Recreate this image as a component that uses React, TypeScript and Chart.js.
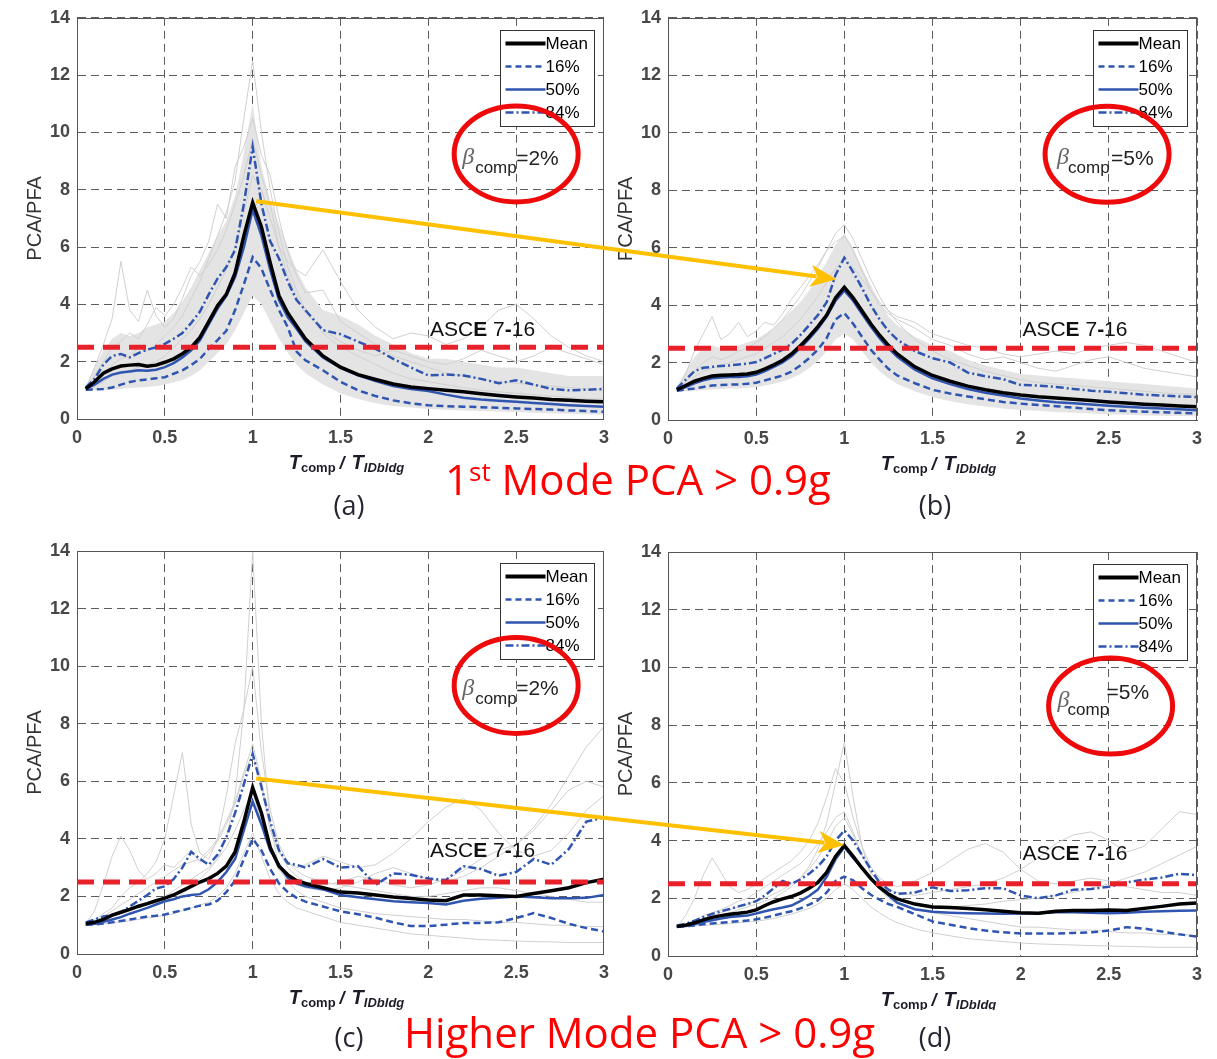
import React, { useEffect, useRef } from "react";
import { Chart, registerables } from "chart.js";

Chart.register(...registerables);

// ---------------- data ----------------
const X = [0.05, 0.1, 0.15, 0.2, 0.25, 0.3, 0.35, 0.4, 0.45, 0.5, 0.55, 0.6, 0.65, 0.7, 0.75, 0.8, 0.85, 0.9, 0.95, 1.0, 1.05, 1.1, 1.15, 1.2, 1.25, 1.3, 1.4, 1.5, 1.6, 1.7, 1.8, 1.9, 2.0, 2.1, 2.2, 2.3, 2.4, 2.5, 2.6, 2.7, 2.8, 2.9, 3.0];
const X_TICKS = [0, 0.5, 1, 1.5, 2, 2.5, 3];
const X_TICK_LABELS = ["0", "0.5", "1", "1.5", "2", "2.5", "3"];
const Y_TICKS = [0, 2, 4, 6, 8, 10, 12, 14];
const Y_TICK_LABELS = ["0", "2", "4", "6", "8", "10", "12", "14"];
const ASCE_LEVEL = 2.5;
const ASCE_SPAN = [0, 3];
const LEGEND_LABELS = ["Mean", "16%", "50%", "84%"];

// (a) 1st mode, beta 2%
const A_MEAN = [1.05, 1.3, 1.6, 1.75, 1.85, 1.88, 1.9, 1.84, 1.88, 1.98, 2.1, 2.28, 2.5, 2.85, 3.4, 3.95, 4.35, 5.1, 6.4, 7.55, 6.7, 5.45, 4.3, 3.7, 3.25, 2.8, 2.2, 1.81, 1.55, 1.38, 1.22, 1.12, 1.06, 1.0, 0.95, 0.88, 0.82, 0.77, 0.73, 0.68, 0.65, 0.62, 0.6];
const A_P50 = [1.05, 1.2, 1.4, 1.55, 1.62, 1.66, 1.7, 1.68, 1.72, 1.81, 1.95, 2.15, 2.4, 2.75, 3.3, 3.85, 4.3, 4.95, 6.0, 7.3, 6.4, 5.2, 4.15, 3.55, 3.15, 2.72, 2.15, 1.78, 1.52, 1.32, 1.15, 1.05, 0.98, 0.85, 0.74, 0.68, 0.64, 0.6, 0.56, 0.52, 0.48, 0.45, 0.43];
const A_P16 = [1.02, 1.03, 1.05, 1.1, 1.2, 1.29, 1.35, 1.38, 1.42, 1.46, 1.58, 1.7, 1.88, 2.1, 2.45, 2.75, 3.08, 3.8, 4.7, 5.65, 5.25, 4.5, 3.8, 3.2, 2.35, 2.05, 1.7, 1.3, 1.0, 0.8, 0.65, 0.55, 0.48, 0.45, 0.43, 0.41, 0.39, 0.37, 0.35, 0.33, 0.3, 0.28, 0.25];
const A_P84 = [1.1, 1.4, 1.9, 2.2, 2.27, 2.15, 2.3, 2.42, 2.5, 2.62, 2.8, 3.0, 3.35, 3.75, 4.35, 4.9, 5.3, 5.9, 7.5, 9.5, 7.5, 6.2, 5.6, 4.8, 4.15, 3.8, 3.1, 2.96, 2.7, 2.45, 2.1, 1.8, 1.52, 1.55, 1.52, 1.4, 1.25, 1.35, 1.2, 1.05, 1.0, 1.02, 1.05];
const A_CLOUD_HI = [1.15, 1.8, 2.4, 2.8, 3.0, 2.9, 3.0, 3.2, 3.3, 3.4, 3.7, 4.1, 4.6, 5.2, 5.8, 6.4, 6.9, 7.8, 9.3, 11.0, 8.8, 7.6, 6.8, 6.0, 5.2, 4.6, 3.8, 3.6, 3.3, 2.9, 2.6, 2.3, 2.1, 2.1, 2.0, 1.9, 1.8, 1.8, 1.7, 1.6, 1.5, 1.5, 1.5];
const A_CLOUD_LO = [0.98, 1.0, 1.0, 1.02, 1.05, 1.08, 1.1, 1.12, 1.15, 1.2, 1.28, 1.35, 1.5, 1.7, 2.0, 2.3, 2.6, 3.1, 3.7, 4.3, 4.0, 3.4, 2.8, 2.3, 1.9, 1.6, 1.2, 0.9, 0.7, 0.55, 0.45, 0.4, 0.35, 0.32, 0.3, 0.28, 0.26, 0.24, 0.22, 0.2, 0.18, 0.17, 0.15];
const A_GRAY_1 = [1.0, 1.3, 1.6, 1.9, 2.1, 2.2, 2.5, 2.4, 2.6, 2.9, 3.2, 3.6, 4.2, 4.8, 5.6, 6.4, 7.2, 8.3, 10.5, 12.5, 10.0, 8.0, 6.5, 5.3, 4.5, 3.8, 3.0, 2.5, 2.2, 1.9, 1.6, 1.4, 1.3, 1.2, 1.1, 1.0, 0.95, 0.9, 0.85, 0.8, 0.75, 0.7, 0.7];
const A_GRAY_2 = [1.05, 1.8, 2.6, 3.5, 5.5, 3.8, 3.4, 4.5, 3.6, 3.2, 3.5, 4.2, 5.0, 5.5, 6.2, 7.5, 7.0, 8.8, 9.5, 10.5, 9.2, 8.5, 7.0, 5.8, 5.0, 4.4, 4.5, 3.4, 3.0, 2.6, 2.2, 2.0, 1.8, 1.6, 1.5, 1.4, 1.3, 1.25, 1.2, 1.15, 1.1, 1.05, 1.0];
const A_GRAY_3 = [1.0, 1.1, 1.3, 1.5, 1.6, 1.7, 1.8, 1.9, 2.0, 2.2, 2.5, 2.8, 3.1, 3.5, 4.0, 4.6, 5.2, 6.0, 7.2, 8.5, 8.0, 7.0, 6.0, 5.5, 5.2, 5.0, 5.9, 4.8, 3.8, 3.2, 2.8, 3.0, 2.9, 2.6, 2.8, 3.2, 3.8, 4.0, 3.5, 2.9, 2.5, 2.2, 2.0];
const A_GRAY_4 = [1.1, 1.5, 2.0, 2.5, 2.7, 3.0, 2.8, 3.3, 3.9, 3.6, 4.0, 4.6, 5.3, 5.0, 5.4, 5.9, 6.6, 7.5, 8.5, 9.8, 8.5, 7.5, 6.0, 5.0, 4.3, 3.7, 3.1, 2.7, 2.4, 2.2, 2.4, 2.2, 2.0, 1.9, 2.1, 2.4, 2.2, 2.0, 2.2, 2.5, 2.3, 2.1, 1.9];

// (b) 1st mode, beta 5%
const B_MEAN = [1.05, 1.2, 1.35, 1.45, 1.53, 1.56, 1.57, 1.58, 1.6, 1.66, 1.78, 1.92, 2.08, 2.3, 2.58, 2.9, 3.25, 3.65, 4.25, 4.62, 4.25, 3.8, 3.35, 2.95, 2.6, 2.3, 1.85, 1.55, 1.35, 1.18, 1.05, 0.95, 0.87, 0.81, 0.77, 0.72, 0.68, 0.63, 0.59, 0.55, 0.52, 0.49, 0.46];
const B_P50 = [1.05, 1.15, 1.28, 1.38, 1.45, 1.48, 1.5, 1.5, 1.52, 1.58, 1.7, 1.85, 2.0, 2.22, 2.5, 2.82, 3.18, 3.6, 4.15, 4.5, 4.15, 3.7, 3.25, 2.85, 2.5, 2.2, 1.75, 1.45, 1.25, 1.08, 0.95, 0.85, 0.75, 0.68, 0.62, 0.58, 0.54, 0.5, 0.46, 0.43, 0.4, 0.37, 0.34];
const B_P16 = [1.02, 1.06, 1.1, 1.15, 1.2, 1.22, 1.23, 1.24, 1.26, 1.3, 1.38, 1.46, 1.55, 1.68, 1.9, 2.15, 2.45, 2.85, 3.5, 3.72, 3.35, 2.9, 2.45, 2.1, 1.78, 1.55, 1.28, 1.05, 0.92, 0.82, 0.72, 0.63, 0.57, 0.52, 0.48, 0.43, 0.38, 0.34, 0.31, 0.29, 0.27, 0.25, 0.23];
const B_P84 = [1.1, 1.4, 1.7, 1.82, 1.85, 1.88, 1.9, 1.93, 1.96, 2.02, 2.15, 2.3, 2.45, 2.65, 2.95, 3.3, 3.65, 4.1, 5.05, 5.65, 5.15, 4.6, 4.0, 3.5, 3.1, 2.8, 2.4, 2.15, 2.0, 1.65, 1.52, 1.42, 1.22, 1.2, 1.15, 1.08, 1.02, 0.98, 0.93, 0.88, 0.85, 0.82, 0.8];
const B_CLOUD_HI = [1.15, 1.7, 2.2, 2.5, 2.6, 2.5, 2.5, 2.6, 2.7, 2.8, 3.0, 3.2, 3.5, 3.8, 4.1, 4.5, 5.0, 5.5, 6.1, 6.5, 6.0, 5.3, 4.7, 4.1, 3.6, 3.3, 2.9, 2.6, 2.4, 2.1, 1.9, 1.75, 1.6, 1.55, 1.5, 1.45, 1.4, 1.35, 1.3, 1.25, 1.2, 1.15, 1.1];
const B_CLOUD_LO = [0.98, 1.0, 1.02, 1.04, 1.06, 1.08, 1.1, 1.1, 1.12, 1.15, 1.2, 1.26, 1.34, 1.45, 1.6, 1.8, 2.05, 2.4, 2.8, 3.0, 2.8, 2.4, 2.0, 1.7, 1.45, 1.25, 1.0, 0.8, 0.65, 0.55, 0.47, 0.4, 0.35, 0.32, 0.28, 0.25, 0.23, 0.2, 0.18, 0.16, 0.15, 0.14, 0.13];
const B_GRAY_1 = [1.0, 1.3, 1.7, 2.0, 2.2, 2.1, 2.2, 2.4, 2.5, 2.7, 2.9, 3.2, 3.5, 3.9, 4.3, 4.8, 5.3, 5.9, 6.5, 6.8, 6.3, 5.6, 4.9, 4.3, 3.8, 3.4, 2.8, 2.4, 2.1, 1.9, 1.7, 1.55, 1.4, 1.3, 1.25, 1.2, 1.15, 1.1, 1.05, 1.0, 0.95, 0.9, 0.9];
const B_GRAY_2 = [1.05, 1.6, 2.4, 3.0, 3.6, 2.8, 3.0, 3.4, 2.9, 3.1, 3.4, 3.3, 3.7, 4.2, 4.6, 5.0, 5.4, 5.9, 6.2, 6.4, 5.9, 5.2, 4.5, 4.0, 3.7, 3.5, 3.2, 2.8, 2.6, 2.3, 2.1, 2.2, 2.0, 1.8, 1.7, 1.9, 2.1, 2.2, 2.0, 1.8, 1.7, 1.6, 1.5];
const B_GRAY_3 = [1.0, 1.2, 1.5, 1.7, 1.8, 1.9, 2.0, 2.1, 2.2, 2.3, 2.5, 2.7, 2.9, 3.2, 3.5, 3.9, 4.3, 4.8, 5.3, 5.6, 5.3, 4.9, 4.5, 4.1, 3.8, 3.6, 3.4, 3.0, 2.8, 2.6, 2.5, 2.3, 2.2, 2.3, 2.4, 2.3, 2.5, 2.6, 2.7, 2.6, 2.4, 2.2, 2.0];

// (c) higher mode, beta 2%
const C_MEAN = [1.05, 1.1, 1.2, 1.35, 1.45, 1.55, 1.66, 1.75, 1.85, 1.94, 2.05, 2.2, 2.35, 2.5, 2.62, 2.8, 3.05, 3.55, 4.6, 5.78, 4.9, 3.7, 3.05, 2.75, 2.55, 2.45, 2.3, 2.15, 2.12, 2.05, 1.98, 1.93, 1.88, 1.85, 2.05, 2.05, 2.02, 2.0, 2.1, 2.2, 2.3, 2.48, 2.6];
const C_P50 = [1.03, 1.05, 1.12, 1.2, 1.28, 1.4, 1.5, 1.6, 1.72, 1.83, 1.9, 2.0, 2.05, 2.08, 2.25, 2.5, 2.85, 3.3, 4.3, 5.3, 4.5, 3.6, 3.1, 2.65, 2.45, 2.35, 2.25, 2.05, 1.97, 1.9, 1.83, 1.8, 1.77, 1.72, 1.85, 1.92, 1.95, 2.0, 1.97, 1.94, 1.94, 1.95, 2.05];
const C_P16 = [1.02, 1.03, 1.06, 1.1, 1.15, 1.2, 1.25, 1.3, 1.33, 1.37, 1.45, 1.52, 1.6, 1.68, 1.72, 1.85, 2.15, 2.55, 3.3, 4.0, 3.6, 2.95, 2.45, 2.15, 1.95, 1.82, 1.65, 1.48, 1.38, 1.26, 1.1, 0.97, 0.97, 1.02, 1.08, 1.08, 1.1, 1.25, 1.42, 1.25, 1.05, 0.9, 0.78];
const C_P84 = [1.1, 1.2, 1.3, 1.35, 1.45, 1.65, 1.85, 2.05, 2.28, 2.35, 2.6, 3.0, 3.55, 3.3, 3.1, 3.45, 4.05, 4.9, 5.9, 6.95, 5.8, 4.6, 3.6, 3.15, 3.1, 3.0, 3.3, 3.0, 3.05, 2.4, 2.8, 2.75, 2.62, 2.57, 3.05, 2.95, 2.72, 2.85, 3.3, 3.1, 3.65, 4.6, 4.75];
const C_GRAY_1 = [1.0, 1.05, 1.1, 1.2, 1.3, 1.4, 1.5, 1.6, 1.7, 1.8, 1.9, 2.1, 2.3, 2.6, 2.9, 3.3, 4.0, 5.5, 8.5, 14.0, 8.0, 4.5, 3.0, 2.5, 2.2, 2.0, 1.8, 1.6, 1.5, 1.4, 1.35, 1.3, 1.25, 1.2, 1.2, 1.15, 1.1, 1.1, 1.05, 1.0, 1.0, 0.95, 0.95];
const C_GRAY_2 = [1.0, 1.2, 1.4, 1.6, 2.0, 2.3, 2.5, 2.8, 3.2, 4.0, 5.5, 7.0, 4.5, 3.5, 3.3, 4.0, 5.5, 7.3, 8.5, 10.0, 7.0, 5.0, 3.8, 3.2, 2.9, 2.7, 2.5, 2.4, 2.3, 2.2, 2.1, 2.0, 2.0, 2.1, 2.2, 2.3, 2.3, 2.2, 2.1, 2.0, 1.9, 1.8, 1.8];
const C_GRAY_3 = [1.05, 1.5, 2.4, 3.4, 4.1, 3.6, 2.9, 2.6, 2.8, 3.1, 3.0, 3.3, 3.6, 3.2, 3.5, 3.9, 4.5, 5.2, 6.2, 7.0, 5.8, 4.3, 3.5, 3.2, 3.0, 3.1, 3.4, 3.2, 3.0, 3.1, 3.5, 4.0, 4.6, 5.1, 5.4, 5.0, 4.2, 3.6, 3.4, 3.6, 4.2, 5.0, 5.5];
const C_GRAY_4 = [1.0, 1.1, 1.2, 1.3, 1.4, 1.5, 1.6, 1.7, 1.8, 2.0, 2.2, 2.4, 2.6, 2.8, 3.0, 3.3, 3.7, 4.3, 5.0, 5.6, 4.6, 3.6, 2.9, 2.6, 2.4, 2.3, 2.2, 2.3, 2.5, 2.8, 3.0, 2.8, 2.6, 2.5, 2.7, 3.0, 3.4, 3.8, 4.4, 5.2, 6.2, 7.2, 7.9];
const C_GRAY_5 = [1.0, 1.02, 1.05, 1.08, 1.12, 1.15, 1.2, 1.25, 1.3, 1.35, 1.4, 1.5, 1.6, 1.7, 1.8, 2.0, 2.3, 2.8, 3.5, 4.2, 3.4, 2.6, 2.1, 1.8, 1.6, 1.5, 1.3, 1.1, 1.0, 0.9, 0.8, 0.7, 0.65, 0.6, 0.55, 0.5, 0.48, 0.45, 0.43, 0.42, 0.4, 0.4, 0.4];
const C_GRAY_6 = [1.0, 1.15, 1.3, 1.5, 1.7, 1.9, 2.1, 2.3, 2.5, 2.7, 2.9, 3.1, 3.2, 3.3, 3.6, 4.0, 4.6, 5.3, 6.3, 7.3, 6.0, 4.5, 3.6, 3.0, 2.7, 2.5, 2.4, 2.5, 2.7, 2.6, 2.4, 2.3, 2.4, 2.6, 2.9, 3.3, 3.6, 3.8, 4.3, 5.0, 5.7, 6.0, 5.8];

// (d) higher mode, beta 5%
const D_MEAN = [1.02, 1.07, 1.15, 1.25, 1.34, 1.4, 1.45, 1.48, 1.52, 1.6, 1.75, 1.88, 1.98, 2.06, 2.18, 2.35, 2.55, 2.9, 3.45, 3.83, 3.45, 3.05, 2.68, 2.38, 2.15, 1.98, 1.8, 1.7, 1.68, 1.65, 1.6, 1.55, 1.5, 1.48, 1.55, 1.58, 1.58, 1.59, 1.58, 1.65, 1.72, 1.8, 1.84];
const D_P50 = [1.01, 1.04, 1.1, 1.18, 1.24, 1.3, 1.35, 1.38, 1.4, 1.47, 1.55, 1.62, 1.68, 1.75, 1.9, 2.08, 2.3, 2.75, 3.35, 3.78, 3.4, 3.05, 2.7, 2.4, 2.1, 1.85, 1.62, 1.53, 1.5, 1.48, 1.47, 1.46, 1.47, 1.48, 1.52, 1.52, 1.5, 1.48, 1.5, 1.53, 1.55, 1.57, 1.58];
const D_P16 = [1.01, 1.03, 1.06, 1.1, 1.13, 1.15, 1.18, 1.2, 1.23, 1.27, 1.33, 1.4, 1.48, 1.55, 1.65, 1.78, 1.93, 2.2, 2.6, 2.75, 2.62, 2.35, 2.12, 1.95, 1.8, 1.7, 1.45, 1.2, 1.08, 0.97, 0.88, 0.82, 0.78, 0.78, 0.78, 0.8, 0.82, 0.88, 1.0, 0.95, 0.85, 0.75, 0.67];
const D_P84 = [1.05, 1.12, 1.22, 1.35, 1.46, 1.55, 1.63, 1.72, 1.8, 1.9, 2.1, 2.35, 2.6, 2.5, 2.65, 2.85, 3.1, 3.45, 4.0, 4.35, 4.0, 3.5, 3.0, 2.55, 2.3, 2.15, 2.2, 2.38, 2.25, 2.28, 2.35, 2.35, 2.1, 2.0, 2.1, 2.3, 2.32, 2.4, 2.55, 2.65, 2.72, 2.85, 2.8];
const D_GRAY_1 = [1.0, 1.05, 1.1, 1.2, 1.3, 1.4, 1.5, 1.6, 1.7, 1.8, 1.9, 2.0, 2.2, 2.4, 2.7, 3.1, 3.7, 4.6, 6.0, 7.4, 5.5, 3.8, 2.8, 2.3, 2.0, 1.8, 1.6, 1.5, 1.4, 1.3, 1.2, 1.1, 1.0, 1.0, 0.95, 0.9, 0.9, 0.85, 0.8, 0.8, 0.75, 0.75, 0.7];
const D_GRAY_2 = [1.0, 1.4, 2.0, 2.8, 3.4, 2.9, 2.4, 2.2, 2.3, 2.5, 2.7, 2.9, 3.1, 3.3, 3.6, 4.0, 4.6, 5.5, 6.5, 6.0, 4.8, 3.8, 3.1, 2.7, 2.5, 2.4, 2.6, 2.9, 3.3, 3.7, 3.9, 3.6, 3.0, 2.6, 2.5, 2.6, 2.7, 2.6, 2.4, 2.3, 2.2, 2.2, 2.1];
const D_GRAY_3 = [1.0, 1.1, 1.25, 1.4, 1.5, 1.6, 1.75, 1.9, 2.0, 2.2, 2.4, 2.6, 2.8, 3.0, 3.2, 3.5, 3.9, 4.3, 4.8, 5.0, 4.3, 3.5, 2.9, 2.5, 2.3, 2.2, 2.1, 2.2, 2.3, 2.4, 2.5, 2.7, 3.0, 3.4, 3.9, 4.2, 4.3, 4.0, 3.6, 3.8, 4.4, 5.0, 4.9];
const D_GRAY_4 = [1.0, 1.02, 1.04, 1.06, 1.08, 1.1, 1.12, 1.15, 1.18, 1.2, 1.25, 1.3, 1.38, 1.45, 1.55, 1.65, 1.8, 2.0, 2.3, 2.5, 2.3, 2.0, 1.7, 1.5, 1.3, 1.15, 0.95, 0.8, 0.7, 0.6, 0.55, 0.5, 0.45, 0.42, 0.4, 0.38, 0.36, 0.35, 0.33, 0.32, 0.3, 0.3, 0.3];
const D_GRAY_5 = [1.0, 1.08, 1.18, 1.3, 1.4, 1.5, 1.6, 1.7, 1.8, 1.9, 2.0, 2.15, 2.3, 2.5, 2.7, 3.0, 3.4, 3.9, 4.5, 4.8, 4.2, 3.5, 2.9, 2.5, 2.2, 2.0, 1.8, 1.75, 1.7, 1.75, 1.8, 1.9, 1.95, 2.0, 2.1, 2.2, 2.35, 2.5, 2.7, 2.9, 3.2, 3.5, 3.8];

// annotation anchors (data coordinates)
const ARROWS = [
  { fromPanel: 0, from: [1.02, 7.6], toPanel: 1, to: [0.955, 4.9] },
  { fromPanel: 2, from: [1.02, 6.1], toPanel: 3, to: [1.0, 3.85] },
];

// ---------------- styling ----------------
const BLUE = "#2f55b0";
const GRAY = "#d0d0d0";
const CLOUD = "#e4e4e4";
const RED_DASH = "#e8202a";
const RED_RING = "#ee0a0a";
const YELLOW = "#ffc000";
const GRID = "#5c5c5c";
const AXIS = "#555555";
const SANS = '"Liberation Sans", Arial, sans-serif';

type Panel = {
  id: string;
  left: number; top: number; width: number; height: number;
  padTop: number; padRight: number; yW: number; xH: number;
  mean: number[]; p50: number[]; p16: number[]; p84: number[];
  grays: number[][]; cloudHi: number[] | null; cloudLo: number[] | null;
  ring: [number, number];
  beta: string;
  betaOff: { b: [number, number]; c: [number, number]; e: [number, number] };
  asce: [number, number];
};

const PANELS: Panel[] = [
  {
    id: "a", left: 0, top: 0, width: 617, height: 480, padTop: 14, padRight: 11, yW: 77, xH: 61,
    mean: A_MEAN, p50: A_P50, p16: A_P16, p84: A_P84,
    grays: [A_GRAY_1, A_GRAY_2, A_GRAY_3, A_GRAY_4], cloudHi: A_CLOUD_HI, cloudLo: A_CLOUD_LO,
    ring: [2.5, 9.25], beta: "=2%",
    betaOff: { b: [-54, 10], c: [-41, 19], e: [0, 11] }, asce: [2.01, 2.9],
  },
  {
    id: "b", left: 600, top: 0, width: 617, height: 480, padTop: 15, padRight: 20, yW: 68, xH: 60,
    mean: B_MEAN, p50: B_P50, p16: B_P16, p84: B_P84,
    grays: [B_GRAY_1, B_GRAY_2, B_GRAY_3], cloudHi: B_CLOUD_HI, cloudLo: B_CLOUD_LO,
    ring: [2.49, 9.25], beta: "=5%",
    betaOff: { b: [-50, 10], c: [-39, 19], e: [4, 11] }, asce: [2.01, 2.92],
  },
  {
    id: "c", left: 0, top: 530, width: 617, height: 480, padTop: 21, padRight: 11, yW: 77, xH: 56,
    mean: C_MEAN, p50: C_P50, p16: C_P16, p84: C_P84,
    grays: [C_GRAY_1, C_GRAY_2, C_GRAY_3, C_GRAY_4, C_GRAY_5, C_GRAY_6], cloudHi: null, cloudLo: null,
    ring: [2.5, 9.33], beta: "=2%",
    betaOff: { b: [-54, 10], c: [-41, 19], e: [0, 10] }, asce: [2.01, 3.37],
  },
  {
    id: "d", left: 600, top: 530, width: 617, height: 480, padTop: 22, padRight: 20, yW: 68, xH: 54,
    mean: D_MEAN, p50: D_P50, p16: D_P16, p84: D_P84,
    grays: [D_GRAY_1, D_GRAY_2, D_GRAY_3, D_GRAY_4, D_GRAY_5], cloudHi: null, cloudLo: null,
    ring: [2.51, 8.66], beta: "=5%",
    betaOff: { b: [-53, 1], c: [-43, 9], e: [-4, -7] }, asce: [2.01, 3.32],
  },
];

const LEGEND_STYLES = [
  { color: "#000", width: 4, dash: [] as number[] },
  { color: BLUE, width: 2.5, dash: [6, 4] },
  { color: BLUE, width: 2.5, dash: [] as number[] },
  { color: BLUE, width: 2.5, dash: [8, 3, 2, 3] },
];

function drawSegments(ctx: CanvasRenderingContext2D, segs: { t: string; f: string; dy: number; gap?: number }[], cx: number, baseY: number, color: string) {
  let total = 0;
  const widths = segs.map((s) => {
    ctx.font = s.f;
    const w = ctx.measureText(s.t).width + (s.gap || 0);
    total += w;
    return w;
  });
  let x = cx - total / 2;
  ctx.fillStyle = color;
  ctx.textAlign = "left";
  ctx.textBaseline = "alphabetic";
  segs.forEach((s, i) => {
    ctx.font = s.f;
    ctx.fillText(s.t, x, baseY + s.dy);
    x += widths[i];
  });
}

function decorPlugin(p: Panel) {
  return {
    id: "decor_" + p.id,
    afterDraw(chart: any) {
      const { ctx, chartArea: ca, scales } = chart;
      const xs = scales.x, ys = scales.y;
      ctx.save();
      // full frame
      ctx.setLineDash([]);
      ctx.strokeStyle = AXIS;
      ctx.lineWidth = 1;
      ctx.beginPath();
      ctx.moveTo(ca.left, Math.round(ca.top) + 0.5);
      ctx.lineTo(ca.right, Math.round(ca.top) + 0.5);
      ctx.moveTo(Math.round(ca.right) - 0.5, ca.top);
      ctx.lineTo(Math.round(ca.right) - 0.5, ca.bottom);
      ctx.stroke();

      // ASCE 7-16 label
      const ax = xs.getPixelForValue(p.asce[0]);
      const ay = ys.getPixelForValue(p.asce[1]);
      const parts = [
        { t: "ASC", b: false }, { t: "E", b: true }, { t: " 7", b: false }, { t: "-", b: true }, { t: "16", b: false },
      ];
      let tx = ax;
      ctx.fillStyle = "#111";
      ctx.textBaseline = "alphabetic";
      ctx.textAlign = "left";
      parts.forEach((pt) => {
        ctx.font = (pt.b ? "bold " : "") + "21px " + SANS;
        ctx.fillText(pt.t, tx, ay);
        tx += ctx.measureText(pt.t).width;
      });

      // legend box
      const lw = 94, lh = 96;
      const lx = Math.round(ca.right - 104) + 0.5, ly = Math.round(ca.top + 12) + 0.5;
      ctx.fillStyle = "#fff";
      ctx.fillRect(lx, ly, lw, lh);
      ctx.strokeStyle = "#333";
      ctx.lineWidth = 1;
      ctx.strokeRect(lx, ly, lw, lh);
      LEGEND_LABELS.forEach((lab, i) => {
        const st = LEGEND_STYLES[i];
        const yy = ly + 13 + i * 23;
        ctx.save();
        ctx.strokeStyle = st.color;
        ctx.lineWidth = st.width;
        ctx.setLineDash(st.dash);
        ctx.beginPath();
        ctx.moveTo(lx + 5, yy);
        ctx.lineTo(lx + 45, yy);
        ctx.stroke();
        ctx.restore();
        ctx.fillStyle = "#000";
        ctx.font = "17px " + SANS;
        ctx.textBaseline = "middle";
        ctx.textAlign = "left";
        ctx.fillText(lab, lx + 45, yy + 1);
      });

      // beta_comp label and red ring
      const rx = xs.getPixelForValue(p.ring[0]);
      const ry = ys.getPixelForValue(p.ring[1]);
      ctx.textBaseline = "alphabetic";
      ctx.textAlign = "left";
      ctx.fillStyle = "#666";
      ctx.font = 'italic 24px "Liberation Serif", serif';
      ctx.fillText("\u03b2", rx + p.betaOff.b[0], ry + p.betaOff.b[1]);
      ctx.fillStyle = "#222";
      ctx.font = "17px " + SANS;
      ctx.fillText("comp", rx + p.betaOff.c[0], ry + p.betaOff.c[1]);
      ctx.font = "21px " + SANS;
      ctx.fillText(p.beta, rx + p.betaOff.e[0], ry + p.betaOff.e[1]);

      ctx.strokeStyle = RED_RING;
      ctx.lineWidth = 5;
      ctx.beginPath();
      ctx.ellipse(rx, ry, 62, 48, 0, 0, Math.PI * 2);
      ctx.stroke();

      // y-axis title
      ctx.save();
      ctx.translate(ca.left - 42, (ca.top + ca.bottom) / 2);
      ctx.rotate(-Math.PI / 2);
      ctx.fillStyle = "#333";
      ctx.font = "20px " + SANS;
      ctx.textAlign = "center";
      ctx.textBaseline = "middle";
      ctx.fillText("PCA/PFA", 0, 0);
      ctx.restore();

      // x-axis title
      drawSegments(
        ctx,
        [
          { t: "T", f: "italic bold 20px " + SANS, dy: 0 },
          { t: "comp", f: "bold 13px " + SANS, dy: 3, gap: 4 },
          { t: "/", f: "italic bold 18px " + SANS, dy: 0, gap: 7 },
          { t: "T", f: "italic bold 20px " + SANS, dy: 0 },
          { t: "IDbldg", f: "italic bold 13px " + SANS, dy: 3 },
        ],
        (ca.left + ca.right) / 2 + 6,
        ca.bottom + 50,
        "#1c1c28"
      );
      ctx.restore();
    },
  };
}

function buildConfig(p: Panel): any {
  const pts = (arr: number[]) => X.map((x, i) => ({ x, y: arr[i] }));
  const line = (data: any[], color: string, width: number, dash: number[] = []) => ({
    data, borderColor: color, borderWidth: width, borderDash: dash, pointRadius: 0, fill: false, tension: 0,
  });
  const datasets: any[] = [
    line(ASCE_SPAN.map((x) => ({ x, y: ASCE_LEVEL })), RED_DASH, 5, [17, 9]),
    line(pts(p.mean), "#000", 3.5),
    line(pts(p.p50), BLUE, 2.5),
    line(pts(p.p16), BLUE, 2.5, [7, 4]),
    line(pts(p.p84), BLUE, 2.5, [8, 3, 2, 3]),
  ];
  p.grays.forEach((g) => datasets.push(line(pts(g), GRAY, 1)));
  if (p.cloudHi && p.cloudLo) {
    datasets.push({ data: pts(p.cloudHi), borderColor: "rgba(0,0,0,0)", borderWidth: 0, pointRadius: 0, backgroundColor: CLOUD, fill: "+1", tension: 0 });
    datasets.push({ data: pts(p.cloudLo), borderColor: "rgba(0,0,0,0)", borderWidth: 0, pointRadius: 0, fill: false, tension: 0 });
  }
  const tickFont = { family: SANS, size: 18, weight: "bold" };
  return {
    type: "line",
    data: { datasets },
    options: {
      responsive: false,
      animation: false,
      devicePixelRatio: 1,
      events: [],
      layout: { padding: { top: p.padTop, right: p.padRight, left: 0, bottom: 0 } },
      plugins: { legend: { display: false }, tooltip: { enabled: false } },
      scales: {
        x: {
          type: "linear", min: 0, max: 3,
          afterBuildTicks: (s: any) => { s.ticks = X_TICKS.map((v) => ({ value: v })); },
          afterFit: (s: any) => { s.height = p.xH; },
          ticks: {
            font: tickFont, color: "#474747", padding: 8, maxRotation: 0, autoSkip: false,
            callback: (v: number) => X_TICK_LABELS[X_TICKS.indexOf(v)] ?? String(v),
          },
          grid: { color: GRID, lineWidth: 1, drawTicks: false },
          border: { display: true, color: AXIS, width: 1, dash: [8, 5] },
        },
        y: {
          type: "linear", min: 0, max: 14,
          afterBuildTicks: (s: any) => { s.ticks = Y_TICKS.map((v) => ({ value: v })); },
          afterFit: (s: any) => { s.width = p.yW; },
          ticks: {
            font: tickFont, color: "#474747", padding: 7, autoSkip: false,
            callback: (v: number) => Y_TICK_LABELS[Y_TICKS.indexOf(v)] ?? String(v),
          },
          grid: { color: GRID, lineWidth: 1, drawTicks: false },
          border: { display: true, color: AXIS, width: 1, dash: [8, 5] },
        },
      },
    },
    plugins: [decorPlugin(p)],
  };
}

function drawArrow(ctx: CanvasRenderingContext2D, x1: number, y1: number, x2: number, y2: number) {
  const ang = Math.atan2(y2 - y1, x2 - x1);
  const headLen = 26, headW = 11;
  const bx = x2 - headLen * Math.cos(ang);
  const by = y2 - headLen * Math.sin(ang);
  ctx.strokeStyle = YELLOW;
  ctx.lineWidth = 4;
  ctx.beginPath();
  ctx.moveTo(x1, y1);
  ctx.lineTo(bx + 6 * Math.cos(ang), by + 6 * Math.sin(ang));
  ctx.stroke();
  ctx.fillStyle = YELLOW;
  ctx.beginPath();
  ctx.moveTo(x2, y2);
  ctx.lineTo(bx + headW * Math.sin(ang), by - headW * Math.cos(ang));
  ctx.lineTo(bx + 7 * Math.cos(ang), by + 7 * Math.sin(ang));
  ctx.lineTo(bx - headW * Math.sin(ang), by + headW * Math.cos(ang));
  ctx.closePath();
  ctx.fill();
}

export default function App() {
  const r0 = useRef<HTMLCanvasElement>(null);
  const r1 = useRef<HTMLCanvasElement>(null);
  const r2 = useRef<HTMLCanvasElement>(null);
  const r3 = useRef<HTMLCanvasElement>(null);
  const overlay = useRef<HTMLCanvasElement>(null);
  const refs = [r0, r1, r2, r3];

  useEffect(() => {
    Chart.defaults.font.family = SANS;
    const charts = PANELS.map((p, i) => new Chart(refs[i].current as HTMLCanvasElement, buildConfig(p)));
    const oc = overlay.current as HTMLCanvasElement;
    const ctx = oc.getContext("2d") as CanvasRenderingContext2D;
    ctx.clearRect(0, 0, oc.width, oc.height);
    ARROWS.forEach((a) => {
      const c1 = charts[a.fromPanel], c2 = charts[a.toPanel];
      const p1 = PANELS[a.fromPanel], p2 = PANELS[a.toPanel];
      const x1 = p1.left + c1.scales.x.getPixelForValue(a.from[0]);
      const y1 = p1.top + c1.scales.y.getPixelForValue(a.from[1]);
      const x2 = p2.left + c2.scales.x.getPixelForValue(a.to[0]);
      const y2 = p2.top + c2.scales.y.getPixelForValue(a.to[1]);
      drawArrow(ctx, x1, y1, x2, y2);
    });
    return () => charts.forEach((c) => c.destroy());
  }, []);

  const caption: React.CSSProperties = {
    position: "absolute", width: 80, textAlign: "center", fontFamily: '"Open Sans", sans-serif',
    fontSize: 27, lineHeight: "30px", color: "#262632",
  };
  const title: React.CSSProperties = {
    position: "absolute", whiteSpace: "nowrap", fontFamily: '"Open Sans", sans-serif',
    fontSize: 42, lineHeight: "42px", color: "#ff0000",
  };

  return (
    <div style={{ position: "absolute", left: 0, top: 0, width: 1217, height: 1059, background: "#fff", overflow: "hidden" }}>
      {PANELS.map((p, i) => (
        <canvas
          key={p.id}
          ref={refs[i]}
          width={p.width}
          height={p.height}
          style={{ position: "absolute", left: p.left, top: p.top, width: p.width, height: p.height }}
        />
      ))}
      <canvas ref={overlay} width={1217} height={1059} style={{ position: "absolute", left: 0, top: 0, width: 1217, height: 1059, pointerEvents: "none" }} />
      <div style={{ ...caption, left: 309, top: 490 }}>(a)</div>
      <div style={{ ...caption, left: 895, top: 490 }}>(b)</div>
      <div style={{ ...caption, left: 309, top: 1022 }}>(c)</div>
      <div style={{ ...caption, left: 895, top: 1022 }}>(d)</div>
      <div style={{ ...title, left: 445, top: 458 }}>
        1<span style={{ fontSize: 26, position: "relative", top: -14 }}>st</span> Mode PCA &gt; 0.9g
      </div>
      <div style={{ ...title, left: 404, top: 1011 }}>Higher Mode PCA &gt; 0.9g</div>
    </div>
  );
}
